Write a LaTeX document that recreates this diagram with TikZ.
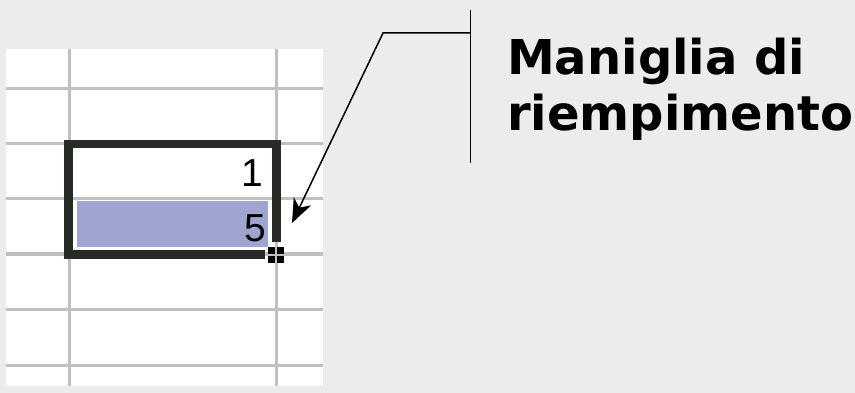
\documentclass[tikz,border=0pt]{standalone}
\usepackage{fontspec}
\setmainfont{DejaVu Sans}
\newfontfamily\digitfont{Liberation Sans}
\usetikzlibrary{arrows.meta}
\definecolor{bgc}{HTML}{ECECEC}
\definecolor{gridc}{HTML}{C0C0C0}
\definecolor{selc}{HTML}{A0A4D0}
\definecolor{borderc}{HTML}{262B26}
\tikzset{
  gridline/.style={draw=gridc, line width=3pt},
  selborder/.style={draw=borderc, line width=8.5pt},
  callout/.style={draw=black, line width=1.5pt},
  digit/.style={font=\digitfont\fontsize{39}{39}\selectfont, anchor=base east, inner sep=0pt},
  label/.style={font=\bfseries\fontsize{48}{56}\selectfont, align=left, anchor=north west, inner sep=0pt}
}
\begin{document}
\begin{tikzpicture}[x=1pt,y=-1pt]
\useasboundingbox (0,0) rectangle (855,393);
\fill[bgc] (0,0) rectangle (855,393);
% sheet
\fill[white] (6,49) rectangle (323,386);
\foreach \x in {69,276} \draw[gridline] (\x,49) -- (\x,386);
\foreach \y in {89,144,199,254,309,365} \draw[gridline] (6,\y) -- (323,\y);
% selected cell
\fill[selc] (77,201) rectangle (268,247);
% selection border
\draw[selborder, line cap=butt] (276.5,242) -- (276.5,144) -- (68.5,144) -- (68.5,254.5) -- (265,254.5);
% fill handle
\node[fill=black, minimum size=16pt, inner sep=0pt] (handle) at (276,255) {};
\draw[gridc, line width=1.3pt] (handle.north) -- (handle.south);
\draw[gridc, line width=1.3pt] (handle.west) -- (handle.east);
% values
\node[digit] (one) at (263,187) {1};
\node[digit] (five) at (266,242) {5};
% callout
\coordinate (ctop) at (470.5,10);
\coordinate (cbot) at (470.5,163);
\coordinate (cjoin) at (470.5,33);
\coordinate (bend) at (383,33);
\coordinate (tip) at (292,223);
\draw[callout] (ctop) -- (cbot);
\draw[callout, -{Stealth[length=24pt, width=19pt, inset=7pt]}] (cjoin) -- (bend) -- (tip);
\node[label] (lbl) at (507,38) {Maniglia di\\riempimento};
\end{tikzpicture}
\end{document}
